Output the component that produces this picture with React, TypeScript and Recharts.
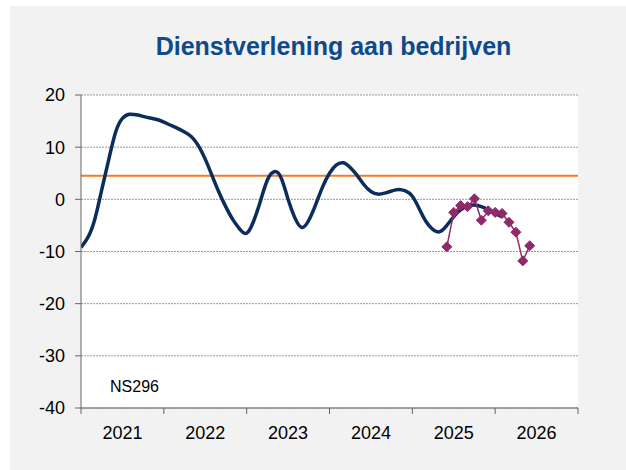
import React from "react";
import {
  LineChart,
  Line,
  XAxis,
  YAxis,
  CartesianGrid,
  ReferenceLine,
} from "recharts";

// months counted from jan 2021 (0 = jan 2021)
const years = ["2021", "2022", "2023", "2024", "2025", "2026"];
const yearTicks = [0, 12, 24, 36, 48, 60, 72];
const yTicks = [-40, -30, -20, -10, 0, 10, 20];

// smoothed trend, one value per month (jan 2021 .. feb 2026)
const trendValues = [
  -9.2, -7.3, -3.8, 1.8, 7.5, 12.8, 15.5, 16.3, 16.2, 15.9, 15.6, 15.3, 14.8,
  14.2, 13.6, 12.9, 12.0, 10.3, 7.7, 4.5, 1.3, -1.5, -3.9, -5.7, -6.5, -4.2,
  -0.3, 3.7, 5.3, 4.1, 0.0, -3.6, -5.4, -4.0, -1.0, 2.4, 5.0, 6.6, 7.0, 6.1,
  4.6, 2.8, 1.5, 1.0, 1.2, 1.6, 1.9, 1.6, 0.6, -1.8, -4.3, -5.8, -6.2, -5.0,
  -3.3, -2.0, -1.3, -1.1, -1.4, -2.0, -2.7, -3.4,
];

// monthly survey outcomes (jun 2025 .. jun 2026)
const surveyMonths = [53, 54, 55, 56, 57, 58, 59, 60, 61, 62, 63, 64, 65];
const surveyValues = [
  -9.1, -2.5, -1.2, -1.4, 0.1, -4.0, -2.2, -2.5, -2.7, -4.4, -6.3, -11.8, -8.9,
];

const longTermAverage = 4.5;
const title = "Dienstverlening aan bedrijven";
const footnote = "NS296";

const trendData = trendValues.map((v, m) => ({ m, v }));
const surveyData = surveyMonths.map((m, i) => ({ m, v: surveyValues[i] }));

const FONT = "'Liberation Sans', Arial, sans-serif";
const HALF_YEAR = 497 / 12;

const YearTick = (props: any) => {
  const { x, y, payload } = props;
  const idx = payload.value / 12;
  if (idx >= years.length) return null;
  return (
    <text
      x={x + HALF_YEAR}
      y={y}
      dy={23}
      textAnchor="middle"
      fontSize={18}
      fontFamily={FONT}
      fill="#000"
    >
      {years[idx]}
    </text>
  );
};

const Diamond = (props: any) => {
  const { cx, cy } = props;
  if (cx == null || cy == null) return null;
  const r = 5;
  return (
    <polygon
      points={`${cx},${cy - r} ${cx + r},${cy} ${cx},${cy + r} ${cx - r},${cy}`}
      fill="#8E2A6A"
      stroke="#8E2A6A"
    />
  );
};

export default function App() {
  return (
    <div
      style={{
        position: "absolute",
        left: 0,
        top: 0,
        width: 626,
        height: 470,
        background: "#fff",
        fontFamily: FONT,
      }}
    >
      <div
        style={{
          position: "absolute",
          left: 10,
          top: 6,
          width: 616,
          height: 464,
          background: "#F2F2F2",
        }}
      />
      <div
        style={{
          position: "absolute",
          left: 85,
          width: 497,
          top: 31,
          textAlign: "center",
          fontSize: 25,
          fontWeight: "bold",
          color: "#0E4A8A",
          lineHeight: "30px",
        }}
      >
        {title}
      </div>
      <div style={{ position: "absolute", left: 0, top: 0 }}>
        <LineChart
          width={626}
          height={470}
          margin={{ top: 95, right: 48, left: 10, bottom: 22 }}
        >
          <CartesianGrid
            vertical={false}
            fill="#fff"
            stroke="#999"
            strokeDasharray="2 1"
          />
          <XAxis
            dataKey="m"
            type="number"
            domain={[0, 72]}
            ticks={yearTicks}
            interval={0}
            height={40}
            stroke="#666"
            tickSize={6}
            tick={<YearTick />}
            allowDataOverflow
          />
          <YAxis
            domain={[-40, 20]}
            ticks={yTicks}
            interval={0}
            width={71}
            stroke="#666"
            tickSize={6}
            tickMargin={10}
            tick={{ fontSize: 18, fill: "#000", fontFamily: FONT }}
          />
          <ReferenceLine
            y={longTermAverage}
            stroke="#F47B20"
            strokeWidth={2}
          />
          <Line
            data={trendData}
            dataKey="v"
            type="natural"
            stroke="#0B2D5B"
            strokeWidth={3.5}
            dot={false}
            isAnimationActive={false}
          />
          <Line
            data={surveyData}
            dataKey="v"
            type="linear"
            stroke="#8E2A6A"
            strokeWidth={1.5}
            dot={<Diamond />}
            isAnimationActive={false}
          />
        </LineChart>
      </div>
      <div
        style={{
          position: "absolute",
          left: 110,
          top: 378,
          fontSize: 16,
          color: "#000",
        }}
      >
        {footnote}
      </div>
    </div>
  );
}
